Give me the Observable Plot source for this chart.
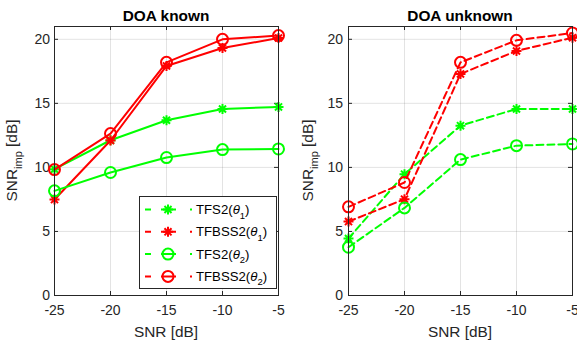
<!DOCTYPE html>
<html><head><meta charset="utf-8">
<script src="https://cdn.jsdelivr.net/npm/d3@7"></script>
<script src="https://cdn.jsdelivr.net/npm/@observablehq/plot@0.6"></script>
<style>
html,body{margin:0;padding:0;background:#fff;overflow:hidden;}
#chart{position:relative;width:577px;height:343px;overflow:hidden;}
#chart svg{position:absolute;top:0;}
</style></head><body><div id="chart"></div>
<script>
// ---- data ----
const snr = [-25, -20, -15, -10, -5];
const yTicks = [0, 5, 10, 15, 20];
const panelTitles = ["DOA known", "DOA unknown"];
const seriesBase = ["TFS2", "TFBSS2", "TFS2", "TFBSS2"];
const seriesTheta = ["1", "1", "2", "2"];

const knownTFS2_th1   = [9.86, 12.12, 13.68, 14.56, 14.72];
const knownTFBSS2_th1 = [7.49, 12.10, 17.92, 19.32, 20.10];
const knownTFS2_th2   = [8.17, 9.60, 10.77, 11.39, 11.44];
const knownTFBSS2_th2 = [9.83, 12.64, 18.20, 20.00, 20.29];

const unknownTFS2_th1   = [4.45, 9.47, 13.26, 14.56, 14.56];
const unknownTFBSS2_th1 = [5.77, 7.52, 17.30, 19.09, 20.13];
const unknownTFS2_th2   = [3.77, 6.84, 10.61, 11.70, 11.83];
const unknownTFBSS2_th2 = [6.92, 8.82, 18.20, 19.92, 20.49];

// ---- styles ----
const colors = ["#00ff00", "#ff0000", "#00ff00", "#ff0000"];
const asterisk8 = {draw(ctx, size) {
  const r = Math.sqrt(size / Math.PI);
  for (let k = 0; k < 4; k++) {
    const a = k * Math.PI / 4, dx = r * Math.cos(a), dy = r * Math.sin(a);
    ctx.moveTo(-dx, -dy); ctx.lineTo(dx, dy);
  }
}};
const markers = [asterisk8, asterisk8, d3.symbolCircle, d3.symbolCircle];
const markerR = [5, 5, 5.5, 5.5];
const AX = "#262626";
const FONT = "'Liberation Sans', Arial, Helvetica, sans-serif";
const H = 343, MT = 26, MB = 48;

const panels = [
  {title: panelTitles[0], left: 0, width: 289, ml: 54, mr: 11, ypad: 4.5, ylabX: 17, dash: null, legend: true,
   series: [knownTFS2_th1, knownTFBSS2_th1, knownTFS2_th2, knownTFBSS2_th2]},
  {title: panelTitles[1], left: 289, width: 288, ml: 59, mr: 5, ypad: 5.5, ylabX: 24, dash: "7,4", legend: false,
   series: [unknownTFS2_th1, unknownTFBSS2_th1, unknownTFS2_th2, unknownTFBSS2_th2]}
];

const chart = document.getElementById("chart");

for (const p of panels) {
  const pw = p.width - p.ml - p.mr, ph = H - MT - MB;
  const marks = [
    Plot.gridX(snr, {stroke: AX, strokeOpacity: 0.13}),
    Plot.gridY(yTicks, {stroke: AX, strokeOpacity: 0.13}),
    Plot.tickX(snr, {x: d => d, insetTop: ph - 4, stroke: AX}),
    Plot.tickX(snr, {x: d => d, insetBottom: ph - 4, stroke: AX}),
    Plot.tickY(yTicks, {y: d => d, insetRight: pw - 4, stroke: AX}),
    Plot.tickY(yTicks, {y: d => d, insetLeft: pw - 4, stroke: AX}),
    Plot.axisX(snr, {tickSize: 0, tickPadding: 10, tickFormat: d => String(d), label: null, fill: AX}),
    Plot.axisY(yTicks, {tickSize: 0, tickPadding: p.ypad, tickFormat: d => String(d), label: null, fill: AX})
  ];
  p.series.forEach((vals, i) => {
    const rows = snr.map((x, j) => ({x, y: vals[j]}));
    marks.push(Plot.line(rows, {x: "x", y: "y", stroke: colors[i], strokeWidth: 2,
      strokeDasharray: p.dash || undefined}));
    marks.push(Plot.dot(rows, {x: "x", y: "y", symbol: markers[i], r: markerR[i],
      stroke: colors[i], strokeWidth: 2, fill: "none"}));
  });
  marks.push(Plot.frame({stroke: AX}));

  const svg = Plot.plot({
    width: p.width, height: H, marginLeft: p.ml, marginRight: p.mr, marginTop: MT, marginBottom: MB,
    x: {domain: [-25, -5]}, y: {domain: [0, 21]},
    style: {fontFamily: FONT, fontSize: "14px", background: "white", color: AX},
    marks
  });
  svg.style.left = p.left + "px";
  chart.appendChild(svg);

  const s = d3.select(svg);
  const cx = p.ml + pw / 2;
  // title
  s.append("text").attr("x", cx).attr("y", 20.7).attr("text-anchor", "middle")
    .attr("font-weight", "bold").attr("font-size", 15.4).attr("fill", "#000").text(p.title);
  // x label
  s.append("text").attr("x", cx).attr("y", 336.7).attr("text-anchor", "middle")
    .attr("font-size", 15.4).attr("fill", AX).text("SNR [dB]");
  // y label
  const yl = s.append("text").attr("transform", `translate(${p.ylabX},${MT + ph / 2}) rotate(-90)`)
    .attr("text-anchor", "middle").attr("font-size", 15.4).attr("fill", AX);
  yl.append("tspan").text("SNR");
  yl.append("tspan").attr("dy", 5).attr("font-size", 11).text("imp");
  yl.append("tspan").attr("dy", -5).text(" [dB]");

  if (p.legend) {
    const g = s.append("g");
    g.append("rect").attr("x", 139.5).attr("y", 196.5).attr("width", 137).attr("height", 92)
      .attr("fill", "white").attr("stroke", AX);
    seriesBase.forEach((name, i) => {
      const y = 209.5 + i * 22.3;
      g.append("line").attr("x1", 145).attr("x2", 192).attr("y1", y).attr("y2", y)
        .attr("stroke", colors[i]).attr("stroke-width", 2).attr("stroke-dasharray", "6,10,15,14,2");
      g.append("path").attr("transform", `translate(168,${y})`)
        .attr("d", d3.symbol(markers[i], Math.PI * markerR[i] * markerR[i])())
        .attr("fill", "none").attr("stroke", colors[i]).attr("stroke-width", 2);
      const t = g.append("text").attr("x", 196).attr("y", y + 4.5).attr("text-anchor", "start")
        .attr("font-size", 13.2).attr("fill", "#000");
      t.append("tspan").text(name + "(");
      t.append("tspan").attr("font-style", "italic").text("θ");
      t.append("tspan").attr("dy", 4.5).attr("font-size", 9.5).text(seriesTheta[i]);
      t.append("tspan").attr("dy", -4.5).text(")");
    });
  }
}
</script></body></html>
